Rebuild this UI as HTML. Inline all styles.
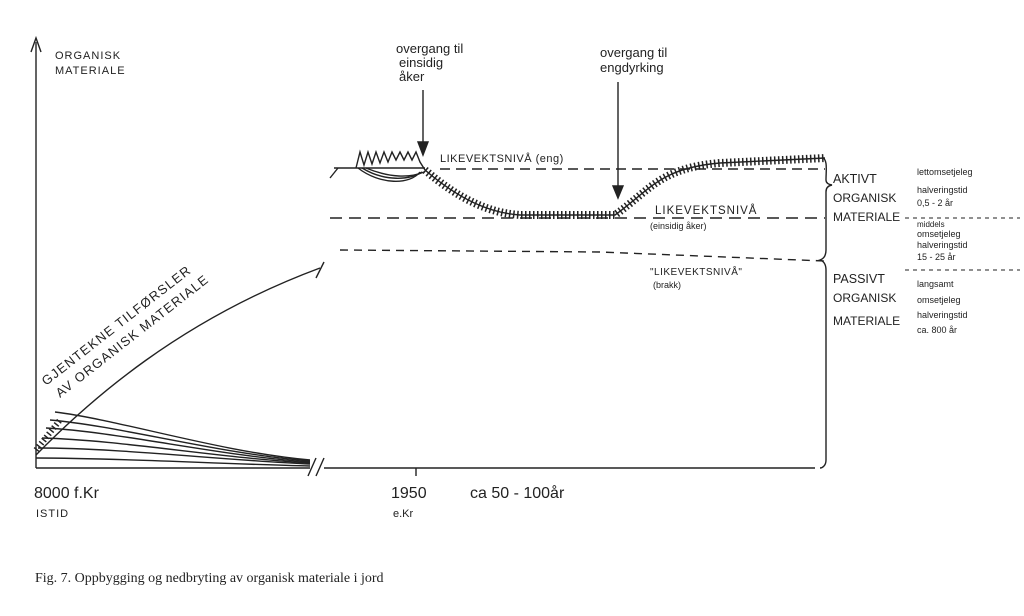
<!DOCTYPE html>
<html><head><meta charset="utf-8"><style>
html,body{margin:0;padding:0;background:#fff;}
svg{display:block}
text{font-family:"Liberation Sans",sans-serif;fill:#222}
</style></head><body>
<svg width="1024" height="616" viewBox="0 0 1024 616" xmlns="http://www.w3.org/2000/svg">
<g stroke="#222" fill="none" stroke-width="1.4">
<line x1="36" y1="42" x2="36" y2="468"/>
<path d="M31 52 L36 38 L41 52" />
<line x1="36" y1="468" x2="310" y2="468"/>
<line x1="308" y1="476" x2="316" y2="458"/><line x1="316" y1="476" x2="324" y2="458"/>
<line x1="324" y1="468" x2="815" y2="468"/>
<line x1="416" y1="468" x2="416" y2="476"/>
<path d="M36 455 C 90 400, 180 320, 320 268"/>
<line x1="316" y1="278" x2="324" y2="262"/>
<path d="M36 450 L60 420" stroke-width="6" stroke-dasharray="1.5 2.5"/>
<path d="M36 458 C 120 458, 220 464, 310 466"/>
<path d="M38 448 C 120 448, 220 460, 310 464"/>
<path d="M42 438 C 120 440, 220 458, 310 463"/>
<path d="M46 428 C 120 432, 220 456, 310 462"/>
<path d="M50 420 C 120 426, 220 454, 310 461"/>
<path d="M55 412 C 120 420, 220 452, 310 460"/>
<line x1="330" y1="178" x2="338" y2="168"/>
<line x1="334" y1="168" x2="425" y2="168"/>
<path d="M356 168 L360 152 L364 165 L368 152 L372 164 L376 152 L380 163 L384 152 L388 162 L392 152 L396 160 L400 152 L404 160 L408 152 L412 160 L416 152 L420 162 L425 170"/>
<path d="M358 168 C 380 185, 410 185, 420 172"/>
<path d="M362 168 C 385 182, 410 180, 422 172"/>
<path d="M366 168 C 390 178, 410 178, 424 172"/>
<path d="M425 170 C 460 200, 490 213, 520 215 L 615 215 C 650 190, 660 168, 720 163 L 825 158" stroke-width="8" stroke-dasharray="1.5 2.5"/>
<path d="M425 170 C 460 200, 490 213, 520 215 L 615 215 C 650 190, 660 168, 720 163 L 825 158"/>
<line x1="440" y1="169" x2="825" y2="169" stroke-dasharray="10 6"/>
<line x1="330" y1="218" x2="825" y2="218" stroke-dasharray="12 7"/>
<path d="M340 250 L 600 252 L 825 261" stroke-dasharray="8 6"/>
<line x1="905" y1="218" x2="1020" y2="218" stroke-dasharray="4 4" stroke-width="1"/>
<line x1="905" y1="270" x2="1020" y2="270" stroke-dasharray="4 4" stroke-width="1"/>
<line x1="423" y1="90" x2="423" y2="150"/>
<path d="M418 142 L423 155 L428 142 Z" fill="#222"/>
<line x1="618" y1="82" x2="618" y2="192"/>
<path d="M613 186 L618 198 L623 186 Z" fill="#222"/>
<path d="M822 157 C 828 160, 826 170, 826 180 Q 826 184 832 185 Q 826 186 826 192 L 826 250 Q 826 258 820 260 Q 826 262 826 270 L 826 460 C 826 466, 822 468, 820 468"/>
</g>
<g font-size="11">
<text x="55" y="59" letter-spacing="1">ORGANISK</text>
<text x="55" y="74" letter-spacing="1">MATERIALE</text>
<text transform="translate(46,386) rotate(-38)" font-size="13" letter-spacing="1.2">GJENTEKNE TILFØRSLER</text>
<text transform="translate(60,398) rotate(-38)" font-size="13" letter-spacing="1.2">AV ORGANISK MATERIALE</text>
<text x="396" y="53" font-size="13">overgang til</text>
<text x="399" y="67" font-size="13">einsidig</text>
<text x="399" y="81" font-size="13">åker</text>
<text x="600" y="57" font-size="13">overgang til</text>
<text x="600" y="72" font-size="13">engdyrking</text>
<text x="440" y="162" letter-spacing="0.5">LIKEVEKTSNIVÅ (eng)</text>
<text x="655" y="214" font-size="11.5" letter-spacing="1">LIKEVEKTSNIVÅ</text>
<text x="650" y="229" font-size="9">(einsidig åker)</text>
<text x="650" y="275" font-size="10" letter-spacing="0.5">"LIKEVEKTSNIVÅ"</text>
<text x="653" y="288" font-size="9">(brakk)</text>
<text x="833" y="183" font-size="12.5">AKTIVT</text>
<text x="833" y="202" font-size="12">ORGANISK</text>
<text x="833" y="221" font-size="12">MATERIALE</text>
<text x="833" y="283" font-size="12.5">PASSIVT</text>
<text x="833" y="302" font-size="12">ORGANISK</text>
<text x="833" y="325" font-size="12">MATERIALE</text>
<g font-size="9">
<text x="917" y="175">lettomsetjeleg</text>
<text x="917" y="193">halveringstid</text>
<text x="917" y="206">0,5 - 2 år</text>
<text x="917" y="227" font-size="8">middels</text>
<text x="917" y="237">omsetjeleg</text>
<text x="917" y="248">halveringstid</text>
<text x="917" y="260">15 - 25 år</text>
<text x="917" y="287">langsamt</text>
<text x="917" y="303">omsetjeleg</text>
<text x="917" y="318">halveringstid</text>
<text x="917" y="333">ca. 800 år</text>
</g>
<text x="34" y="498" font-size="16">8000 f.Kr</text>
<text x="36" y="517" font-size="11" letter-spacing="1">ISTID</text>
<text x="391" y="498" font-size="16">1950</text>
<text x="393" y="517" font-size="11">e.Kr</text>
<text x="470" y="498" font-size="16">ca 50 - 100år</text>
</g>
<text x="35" y="582" font-size="14" style="font-family:'Liberation Serif',serif">Fig. 7. Oppbygging og nedbryting av organisk materiale i jord</text>
</svg>
</body></html>
